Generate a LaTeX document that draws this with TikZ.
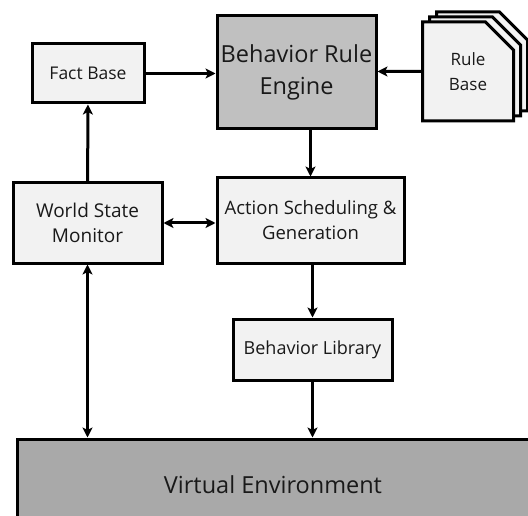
\documentclass[tikz,border=0pt]{standalone}
\usepackage{fontspec}
\setmainfont{Open Sans}
\usepackage{tikz}
\usetikzlibrary{positioning, arrows.meta, shapes.misc, shadows}
\definecolor{boxgray}{HTML}{F2F2F2}
\definecolor{enginegray}{HTML}{C0C0C0}
\definecolor{envgray}{HTML}{A9A9A9}
\tikzset{
x=1pt, y=-1pt, % one unit is one pixel of the sketch, y runs downwards
>={Stealth[length=10pt,width=10pt,inset=2.5pt]}, % makes the arrow heads bold
block/.style={draw, line width=3pt, fill=boxgray, align=center, inner sep=0pt, text=black!90}, % sets the properties for each box
link/.style={line width=3pt}, % the connectors between boxes
page/.style={block, chamfered rectangle, chamfered rectangle corners=north east, chamfered rectangle xsep=14pt, chamfered rectangle ysep=14pt,
  copy shadow={shadow xshift=14pt, shadow yshift=10pt, fill=boxgray, draw=black},
  copy shadow={shadow xshift=7pt, shadow yshift=5pt, fill=boxgray, draw=black}}, % a stack of pages
}

\begin{document}
\begin{tikzpicture}
\clip (0,0) rectangle (528,516);
\node[block, minimum width=112pt, minimum height=59pt, font=\fontsize{17.5}{20}\selectfont] (fact) at (88,73.5) {Fact Base};
\node[block, fill=enginegray, minimum width=159pt, minimum height=113pt, font=\fontsize{23.5}{32}\selectfont] (engine) at (296.5,72.5) {Behavior Rule\\Engine};
\node[page, minimum width=91pt, minimum height=99pt, font=\fontsize{17}{25}\selectfont] (rules) at (468,71.5) {Rule\\Base};
\node[block, minimum width=149pt, minimum height=80pt, font=\fontsize{19}{25}\selectfont] (monitor) at (87.5,223) {World State\\Monitor};
\node[block, minimum width=187pt, minimum height=85pt, font=\fontsize{18.5}{25}\selectfont] (action) at (310.5,220.5) {Action Scheduling \&\\Generation};
\node[block, minimum width=159pt, minimum height=61pt, font=\fontsize{18}{20}\selectfont] (library) at (312.5,349.5) {Behavior Library};
\node[block, fill=envgray, minimum width=512pt, minimum height=92pt, font=\fontsize{23.5}{26}\selectfont] (env) at (273,485) {Virtual Environment};
\draw[link, ->] (fact) -- (fact -| engine.west);
\draw[link, ->] (rules) -- (rules -| engine.east);
\draw[link, ->] (action.north |- engine.south) -- (action.north);
\draw[link, ->] (action.south -| library) -- (library);
\draw[link, ->] (library) -- (library |- env.north);
\draw[link, ->] (monitor) -- (fact);
\draw[link, <->] (monitor.east) -- (monitor.east -| action.west);
\draw[link, <->] (monitor) -- (monitor |- env.north);
\end{tikzpicture}
\end{document}
